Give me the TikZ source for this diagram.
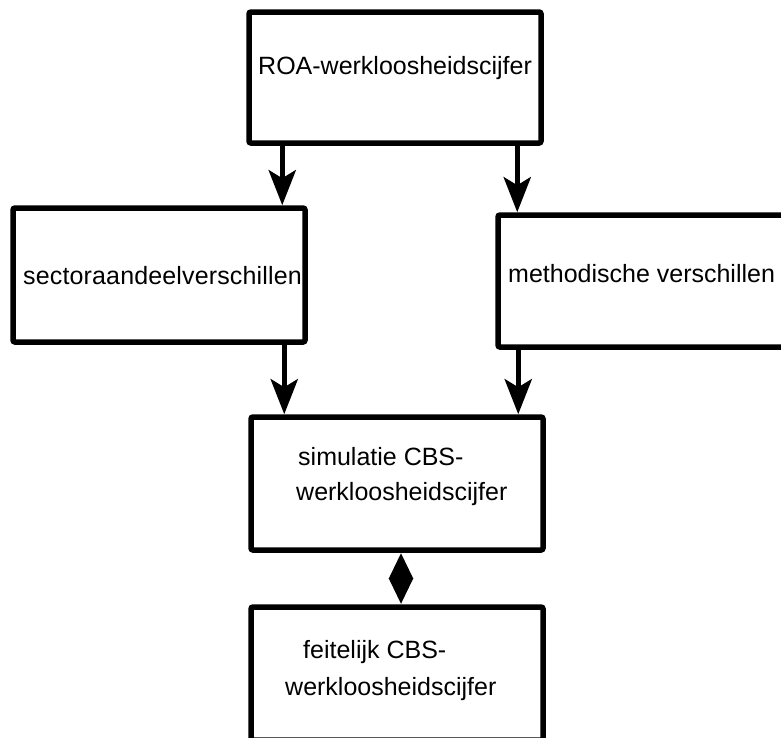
\documentclass[tikz,border=0pt]{standalone}
\usepackage{fontspec}
\setmainfont{Liberation Sans}
\usetikzlibrary{arrows.meta,calc}
\tikzset{
  box/.style={draw=black, line width=5.5pt, rounded corners=2pt, rectangle, inner sep=0pt,
              minimum width=292pt, fill=white},
  txt/.style={anchor=base west, inner sep=0pt, font=\fontsize{25}{30}\selectfont},
  arr/.style={draw=black, line width=5.5pt, -{Stealth[length=35pt,width=27pt,inset=8pt]}},
  darr/.style={draw=black, line width=5.5pt, {Triangle[length=26pt,width=23pt]}-{Triangle[length=26pt,width=23pt]}}
}
\begin{document}
\begin{tikzpicture}[x=1pt,y=-1pt]
\clip (0,0) rectangle (781,737);
\fill[white] (0,0) rectangle (781,737);
% boxes
\node[box, minimum height=131pt] (top) at (395,77.5) {};
\node[box, minimum height=134pt] (left) at (159,275) {};
\node[box, minimum height=132pt] (right) at (644,281) {};
\node[box, minimum height=133pt] (mid) at (397,483.5) {};
\node[box, minimum height=133pt] (bot) at (397,673.5) {};
% texts
\node[txt] (ttop) at (258,74) {ROA-werkloosheidscijfer};
\node[txt] (tleft) at (23,284) {\addfontfeature{LetterSpace=0.6}sectoraandeelverschillen};
\node[txt] (tright) at (508,282) {methodische verschillen};
\node[txt] (tmid1) at (298,465) {simulatie CBS-};
\node[txt] (tmid2) at (296,500) {werkloosheidscijfer};
\node[txt] (tbot1) at (303,658) {feitelijk CBS-};
\node[txt] (tbot2) at (285,695) {werkloosheidscijfer};
% connectors
\draw[arr] ([xshift=36pt]top.south west) -- ([xshift=36pt]top.south west |- left.north);
\draw[arr] ([xshift=271pt]top.south west) -- ([xshift=271pt]top.south west |- right.north);
\draw[arr] ([xshift=274pt]left.south west) -- ([xshift=274pt]left.south west |- mid.north);
\draw[arr] ([xshift=23pt]right.south west) -- ([xshift=23pt]right.south west |- mid.north);
\draw[darr] ([xshift=4pt]mid.south) -- ([xshift=4pt]mid.south |- bot.north);
\end{tikzpicture}
\end{document}
